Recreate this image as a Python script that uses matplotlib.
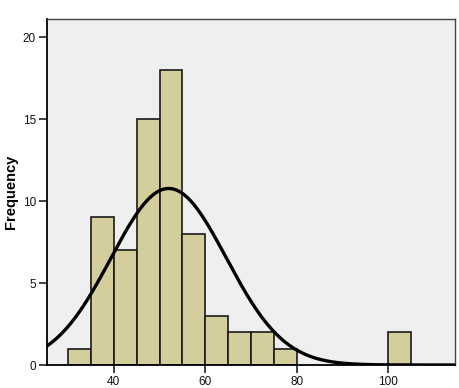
import numpy as np
import matplotlib
matplotlib.use("Agg")
import matplotlib.pyplot as plt

plt.rcParams['font.family'] = ['Liberation Sans', 'DejaVu Sans']

bin_edges = [30, 35, 40, 45, 50, 55, 60, 65, 70, 75, 80, 85, 90, 95, 100, 105]
counts = [1, 9, 7, 15, 18, 8, 3, 2, 2, 1, 0, 0, 0, 0, 2]
curve_mean = 52.0
curve_sd = 12.6
x_ticks = [40, 60, 80, 100]
y_ticks = [0, 5, 10, 15, 20]

fig = plt.figure(figsize=(4.6, 3.88), dpi=100)
ax = fig.add_axes([47/460, 23/388, 408/460, 346/388])
ax.set_facecolor('#EFEFEF')

lefts = np.array(bin_edges[:-1])
widths = np.diff(bin_edges)
cnt = np.array(counts)
mask = cnt > 0
ax.bar(lefts[mask], cnt[mask], width=widths[mask], align='edge',
       color='#D3CE9C', edgecolor='#1a1a1a', linewidth=1.2, zorder=2)

n = cnt.sum()
bw = 5
xs = np.linspace(25.4, 114.6, 400)
ys = n * bw / (curve_sd * np.sqrt(2 * np.pi)) * np.exp(-0.5 * ((xs - curve_mean) / curve_sd) ** 2)
ax.plot(xs, ys, color='black', linewidth=2.4, zorder=3)

ax.set_xlim(25.4, 114.6)
ax.set_ylim(0, 21.1)
ax.set_xticks(x_ticks)
ax.set_yticks(y_ticks)
ax.tick_params(axis='both', direction='out', length=6, width=1.2, color='#222222',
               labelsize=8.5, labelcolor='#111111', pad=2)
for s in ['left', 'bottom']:
    ax.spines[s].set_color('black')
    ax.spines[s].set_linewidth(1.3)
for s in ['top', 'right']:
    ax.spines[s].set_color('#444444')
    ax.spines[s].set_linewidth(1.0)

ax.set_ylabel('Frequency', fontsize=10.5, fontweight='bold', labelpad=3)

fig.savefig('out.png', dpi=100)
